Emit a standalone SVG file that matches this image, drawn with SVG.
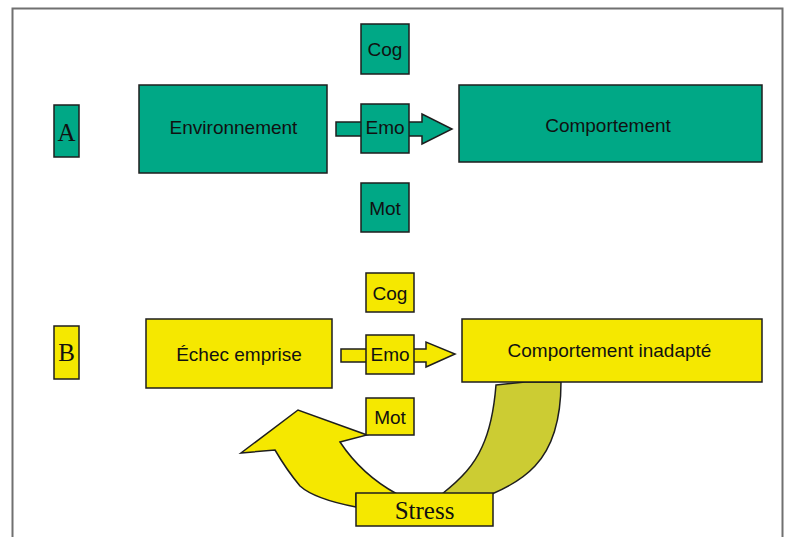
<svg xmlns="http://www.w3.org/2000/svg" width="792" height="537" viewBox="0 0 792 537">
<style>
.g{fill:#00A886;stroke:#1e1e1e;stroke-width:1.5}
.y{fill:#F5E800;stroke:#1e1e1e;stroke-width:1.5}
.o{fill:#CCCC33;stroke:#1e1e1e;stroke-width:1.5}
.t{font-family:"Liberation Sans",Arial,sans-serif;font-size:19px;fill:#111;text-anchor:middle}
.s{font-family:"Liberation Serif","Times New Roman",serif;font-size:25px;fill:#111;text-anchor:middle}
</style>
<rect x="0" y="0" width="792" height="537" fill="#ffffff"/>
<path d="M12.5,537 V8.5 H782.5 V537" fill="none" stroke="#707070" stroke-width="2"/>

<g id="connectors">
  <path id="arrowA" class="g" d="M336,122 H422 V114 L452,129 L422,144 V136 H336 Z"/>
  <path id="arrowB" class="y" d="M341,349 H426 V342 L455,354 L426,367 V362 H341 Z"/>
  <path id="stressOut" class="o" d="M496,385 L525,382 L561,382 C561,420 552,448 535,466 C522,480 506,488 492,494 L442,494 C462,478 474,465 482,447 C490,430 494,410 496,385 Z"/>
  <path id="stressBack" class="y" d="M356,507 C330,502 310,495 300,486 C290,474 282,462 275,450 L241,453 L298,410 L367,435 L340,442 Q362,475 397,494 L356,494 Z"/>
</g>

<g id="labelA"><rect class="g" x="54" y="105" width="25" height="52"/><text class="s" x="66.5" y="141">A</text></g>
<g id="env"><rect class="g" x="139" y="85" width="188" height="88"/><text class="t" x="233.5" y="134">Environnement</text></g>
<g id="cogA"><rect class="g" x="361" y="24" width="48" height="50"/><text class="t" x="385" y="56">Cog</text></g>
<g id="emoA"><rect class="g" x="361" y="104" width="48" height="49"/><text class="t" x="385" y="134">Emo</text></g>
<g id="motA"><rect class="g" x="361" y="183" width="48" height="49"/><text class="t" x="385" y="215">Mot</text></g>
<g id="compA"><rect class="g" x="459" y="85" width="303" height="77"/><text class="t" x="608" y="132">Comportement</text></g>

<g id="labelB"><rect class="y" x="54" y="326" width="25" height="53"/><text class="s" x="66.5" y="361">B</text></g>
<g id="echec"><rect class="y" x="146" y="319" width="186" height="69"/><text class="t" x="239" y="361">Échec emprise</text></g>
<g id="cogB"><rect class="y" x="366" y="273" width="48" height="39"/><text class="t" x="390" y="300">Cog</text></g>
<g id="emoB"><rect class="y" x="366" y="335" width="48" height="39"/><text class="t" x="390" y="361">Emo</text></g>
<g id="motB"><rect class="y" x="366" y="398" width="48" height="37"/><text class="t" x="390" y="424">Mot</text></g>
<g id="compB"><rect class="y" x="462" y="319" width="300" height="63"/><text class="t" x="609.5" y="357">Comportement inadapté</text></g>
<g id="stress"><rect class="y" x="356" y="493" width="137" height="33"/><text class="s" x="424.5" y="519">Stress</text></g>
</svg>
